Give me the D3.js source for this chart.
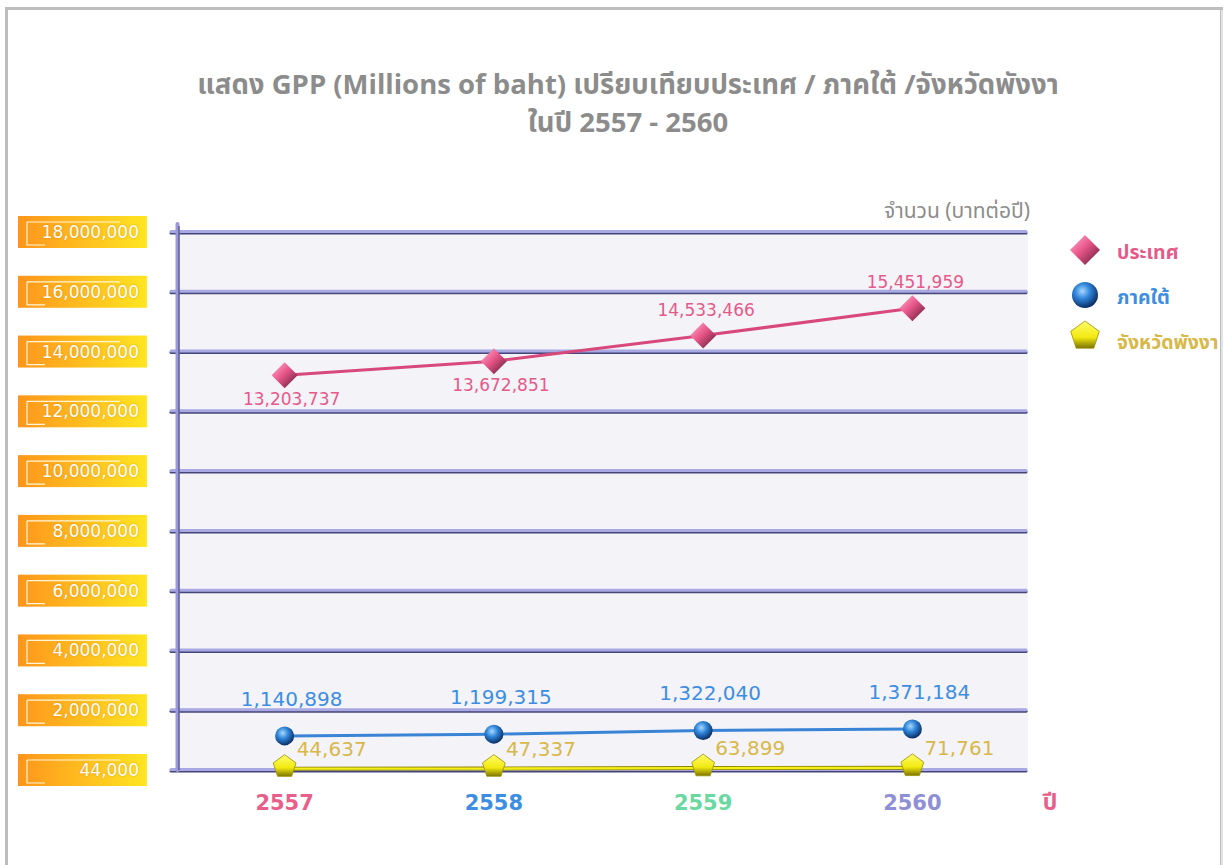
<!DOCTYPE html>
<html>
<head>
<meta charset="utf-8">
<script src="https://cdn.jsdelivr.net/npm/d3@7"></script>
<style>
  body { margin: 0; background: #fff; }
  svg { display: block; font-family: "Noto Sans Thai", "Noto Sans", "Liberation Sans", sans-serif; }
  .num { font-family: "DejaVu Sans", sans-serif; }
</style>
</head>
<body>
<svg id="chart" width="1226" height="865"></svg>
<script>
// chart data
var years = ["2557", "2558", "2559", "2560"];
var yearColors = ["#e95f8b", "#3d8ee2", "#6ad9a1", "#8f8fd6"];
var country = [13203737, 13672851, 14533466, 15451959];
var south = [1140898, 1199315, 1322040, 1371184];
var phangnga = [44637, 47337, 63899, 71761];
var tickValues = [0, 2000000, 4000000, 6000000, 8000000, 10000000, 12000000, 14000000, 16000000, 18000000];
var tickLabels = ["44,000", "2,000,000", "4,000,000", "6,000,000", "8,000,000", "10,000,000", "12,000,000", "14,000,000", "16,000,000", "18,000,000"];
var seriesNames = ["ประเทศ", "ภาคใต้", "จังหวัดพังงา"];

(function() {
var svg = d3.select("#chart");
var defs = svg.append("defs");

// frame
svg.append("rect").attr("x", 6.5).attr("y", 8.5).attr("width", 1215).attr("height", 870)
  .attr("fill", "none").attr("stroke", "#bdbdbd").attr("stroke-width", 3);
svg.append("line").attr("x1", 1222).attr("x2", 1222).attr("y1", 10).attr("y2", 865)
  .attr("stroke", "#e4e4e4").attr("stroke-width", 2);

var plotLeft = 180, plotRight = 1028, plotTop = 232, plotBottom = 770;

var x = d3.scalePoint().domain(years).range([180, 1017]).padding(0.5);
var y = d3.scaleLinear().domain([0, 18000000]).range([plotBottom, plotTop]);

// plot background
svg.append("rect").attr("x", plotLeft).attr("y", plotTop)
  .attr("width", plotRight - plotLeft).attr("height", plotBottom - plotTop)
  .attr("fill", "#f3f3f8");

// gradients
var og = defs.append("linearGradient").attr("id", "tickbox");
og.append("stop").attr("offset", "0%").attr("stop-color", "#ff951c");
og.append("stop").attr("offset", "100%").attr("stop-color", "#ffe622");

var dg = defs.append("linearGradient").attr("id", "diamond").attr("x1", 0).attr("y1", 0).attr("x2", 1).attr("y2", 1);
dg.append("stop").attr("offset", "0%").attr("stop-color", "#ffb3cc");
dg.append("stop").attr("offset", "45%").attr("stop-color", "#e9578a");
dg.append("stop").attr("offset", "100%").attr("stop-color", "#5a1530");

var bg = defs.append("radialGradient").attr("id", "sphere").attr("cx", "40%").attr("cy", "35%").attr("r", "65%");
bg.append("stop").attr("offset", "0%").attr("stop-color", "#a9d8ff");
bg.append("stop").attr("offset", "45%").attr("stop-color", "#2f86da");
bg.append("stop").attr("offset", "100%").attr("stop-color", "#0b2f66");

var pg = defs.append("linearGradient").attr("id", "penta").attr("x1", 0).attr("y1", 0).attr("x2", 0).attr("y2", 1);
pg.append("stop").attr("offset", "0%").attr("stop-color", "#fffb6a");
pg.append("stop").attr("offset", "60%").attr("stop-color", "#f2ea10");
pg.append("stop").attr("offset", "100%").attr("stop-color", "#7c7400");

// gridlines
var grid = svg.append("g");
tickValues.forEach(function(v) {
  var gy = y(v);
  grid.append("line").attr("x1", 171).attr("x2", 1026).attr("y1", gy + 1).attr("y2", gy + 1)
    .attr("stroke", "#45457a").attr("stroke-width", 3).attr("stroke-linecap", "round");
  grid.append("line").attr("x1", 171).attr("x2", 1026).attr("y1", gy - 0.5).attr("y2", gy - 0.5)
    .attr("stroke", "#a8a8e2").attr("stroke-width", 3).attr("stroke-linecap", "round");
});

// vertical axis
svg.append("line").attr("x1", 177.5).attr("x2", 177.5).attr("y1", 224).attr("y2", plotBottom)
  .attr("stroke", "#9a9ad8").attr("stroke-width", 4).attr("stroke-linecap", "round");
svg.append("line").attr("x1", 179).attr("x2", 179).attr("y1", 226).attr("y2", plotBottom)
  .attr("stroke", "#4d4d88").attr("stroke-width", 1.2);

// y tick boxes
var tb = svg.append("g").selectAll("g").data(tickValues).join("g")
  .attr("transform", function(d) { return "translate(18," + (y(d) - 16) + ")"; });
tb.append("rect").attr("width", 129).attr("height", 32).attr("fill", "url(#tickbox)");
tb.append("path").attr("d", "M9,6H102M9,6V29H27").attr("fill", "none")
  .attr("stroke", "#fff6d8").attr("stroke-width", 1.2);
tb.append("text").attr("class", "num").attr("x", 121).attr("y", 22).attr("text-anchor", "end")
  .attr("fill", "#fff").attr("font-size", 17)
  .style("text-shadow", "0 0 2px rgba(190,110,0,0.6)")
  .text(function(d, i) { return tickLabels[i]; });

// x labels
svg.append("g").selectAll("text").data(years).join("text")
  .attr("class", "num")
  .attr("x", function(d) { return x(d); }).attr("y", 810).attr("text-anchor", "middle")
  .attr("font-size", 21).attr("font-weight", "bold")
  .attr("fill", function(d, i) { return yearColors[i]; }).text(function(d) { return d; });
svg.append("text").attr("x", 1050).attr("y", 810).attr("text-anchor", "middle")
  .attr("font-size", 23).attr("font-weight", "bold").attr("fill", "#e95f8b").text("ปี");

// title
svg.append("text").attr("x", 628).attr("y", 94).attr("text-anchor", "middle")
  .attr("font-size", 27.5).attr("font-weight", "bold").attr("fill", "#8c8c8c")
  .text("แสดง GPP (Millions of baht) เปรียบเทียบประเทศ / ภาคใต้ /จังหวัดพังงา");
svg.append("text").attr("x", 628).attr("y", 132).attr("text-anchor", "middle")
  .attr("font-size", 27.5).attr("font-weight", "bold").attr("fill", "#8c8c8c")
  .text("ในปี 2557 - 2560");
svg.append("text").attr("x", 1030).attr("y", 218).attr("text-anchor", "end")
  .attr("font-size", 21).attr("fill", "#8c8c8c").text("จำนวน (บาทต่อปี)");

var line = d3.line().x(function(d, i) { return x(years[i]); }).y(function(d) { return y(d); });

// lines
svg.append("path").datum(phangnga).attr("d", line).attr("fill", "none")
  .attr("stroke", "#8a8200").attr("stroke-width", 4);
svg.append("path").datum(phangnga).attr("d", line).attr("fill", "none")
  .attr("stroke", "#f4ee1a").attr("stroke-width", 2.4);
svg.append("path").datum(south).attr("d", line).attr("fill", "none")
  .attr("stroke", "#3a84d6").attr("stroke-width", 3);
svg.append("path").datum(country).attr("d", line).attr("fill", "none")
  .attr("stroke", "#d8487a").attr("stroke-width", 3);

// markers
function diamond(g, s) {
  g.append("path").attr("d", "M0," + (-s) + "L" + s + ",0L0," + s + "L" + (-s) + ",0Z")
    .attr("fill", "url(#diamond)");
}
function sphere(g, r) {
  g.append("circle").attr("r", r).attr("fill", "url(#sphere)");
}
function penta(g, r) {
  var pts = d3.range(5).map(function(k) {
    var a = -Math.PI / 2 + k * 2 * Math.PI / 5;
    return [r * Math.cos(a), r * Math.sin(a)];
  });
  g.append("path").attr("d", "M" + pts.join("L") + "Z").attr("fill", "url(#penta)")
    .attr("stroke", "#9a9000").attr("stroke-width", 0.8);
}

country.forEach(function(v, i) {
  diamond(svg.append("g").attr("transform", "translate(" + x(years[i]) + "," + y(v) + ")"), 13);
});
south.forEach(function(v, i) {
  sphere(svg.append("g").attr("transform", "translate(" + x(years[i]) + "," + y(v) + ")"), 9.5);
});
phangnga.forEach(function(v, i) {
  penta(svg.append("g").attr("transform", "translate(" + x(years[i]) + "," + (y(v) - 2) + ")"), 12);
});

// data labels
var fmt = d3.format(",");
svg.append("g").selectAll("text").data(country).join("text")
  .attr("class", "num")
  .attr("x", function(d, i) { return x(years[i]) + (i < 2 ? 7 : 3); })
  .attr("y", function(d, i) { return i < 2 ? y(d) + 30 : y(d) - 20; })
  .attr("text-anchor", "middle").attr("font-size", 17).attr("fill", "#e55a88")
  .text(function(d) { return fmt(d); });
svg.append("g").selectAll("text").data(south).join("text")
  .attr("class", "num")
  .attr("x", function(d, i) { return x(years[i]) + 7; })
  .attr("y", function(d) { return y(d) - 30; })
  .attr("text-anchor", "middle").attr("font-size", 20).attr("fill", "#3d8ee2")
  .text(function(d) { return fmt(d); });
svg.append("g").selectAll("text").data(phangnga).join("text")
  .attr("class", "num")
  .attr("x", function(d, i) { return x(years[i]) + 12; })
  .attr("y", function(d) { return y(d) - 13; })
  .attr("font-size", 20).attr("fill", "#d9b84a")
  .text(function(d) { return fmt(d); });

// legend
var legend = svg.append("g").attr("transform", "translate(1085,250)");
var lcolors = ["#e55a88", "#3d8ee2", "#d9b84a"];
seriesNames.forEach(function(n, i) {
  var g = legend.append("g").attr("transform", "translate(0," + (i * 45) + ")");
  var m = g.append("g");
  if (i === 0) diamond(m, 15);
  else if (i === 1) sphere(m, 13);
  else penta(m.attr("transform", "translate(0,-4)"), 15);
  g.append("text").attr("x", 32).attr("y", 9).attr("font-size", 19.5).attr("font-weight", "bold")
    .attr("fill", lcolors[i]).text(n);
});
})();
</script>
</body>
</html>
